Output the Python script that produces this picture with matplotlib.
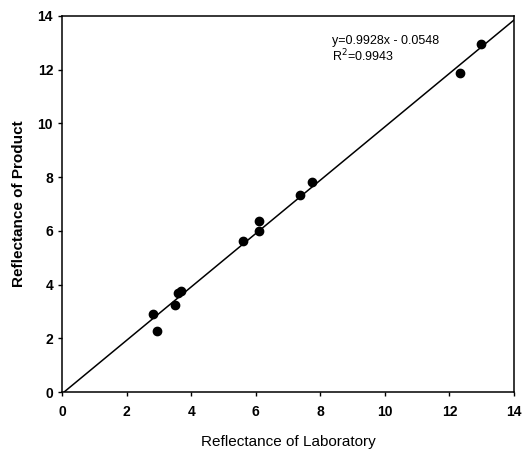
import numpy as np
import matplotlib
matplotlib.use("Agg")
import matplotlib.pyplot as plt

# reflectance values
lab = [2.83, 2.95, 3.51, 3.58, 3.69, 5.60, 6.10, 6.09, 7.37, 7.74, 12.34, 12.99]
product = [2.90, 2.27, 3.26, 3.69, 3.75, 5.61, 6.36, 5.99, 7.34, 7.83, 11.87, 12.95]
slope = 0.9928
intercept = -0.0548
ticks = [0, 2, 4, 6, 8, 10, 12, 14]

plt.rcParams['font.family'] = ['Liberation Sans', 'DejaVu Sans']

fig = plt.figure(figsize=(5.26, 4.55), dpi=100)
ax = fig.add_axes([0.118, 0.138, 0.859, 0.827])

xs = np.array([0, 14])
ax.plot(xs, slope * xs + intercept, color='black', lw=1.1)
ax.plot(lab, product, 'o', color='black', markersize=6)

ax.set_xlim(0, 14)
ax.set_ylim(0, 14)
ax.set_xticks(ticks)
ax.set_yticks(ticks)
ax.tick_params(direction='out', length=3, width=1, labelsize=10)
ax.tick_params(axis='x', pad=6)
for lab_txt in ax.get_xticklabels() + ax.get_yticklabels():
    lab_txt.set_fontweight('bold')
for sp in ax.spines.values():
    sp.set_linewidth(1.1)

ax.set_xlabel("Reflectance of Laboratory", fontsize=11, labelpad=12)
ax.set_ylabel("Reflectance of Product", fontsize=11, fontweight='bold', labelpad=8)

ax.text(8.35, 12.75, "y=0.9928x - 0.0548\nR$^2$=0.9943", fontsize=9,
        va='center', ha='left', linespacing=1.1)

fig.savefig("out.png", dpi=100)
